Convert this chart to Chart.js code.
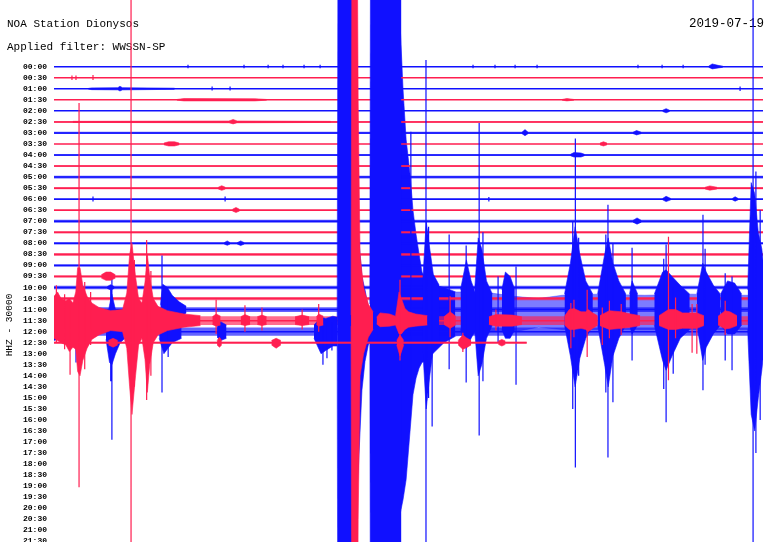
<!DOCTYPE html>
<html>
<head>
<meta charset="utf-8">
<title>NOA Station Dionysos</title>
<script src="https://cdn.jsdelivr.net/npm/chart.js@4.4.1/dist/chart.umd.min.js"></script>
<style>
  html, body { margin: 0; padding: 0; background: #fff; }
  #wrap { width: 770px; height: 542px; }
</style>
</head>
<body>
<div id="wrap"><canvas id="heli" width="770" height="542"></canvas></div>
<script>
const stationName = 'NOA Station Dionysos';
const filterName = 'Applied filter: WWSSN-SP';
const dayLabel = '2019-07-19';
const channelLabel = 'HHZ - 30000';

// one line every 30 minutes, x = minutes into the half hour
const traceLabels = ['00:00','00:30','01:00','01:30','02:00','02:30','03:00','03:30','04:00','04:30',
  '05:00','05:30','06:00','06:30','07:00','07:30','08:00','08:30','09:00','09:30',
  '10:00','10:30','11:00','11:30','12:00','12:30','13:00','13:30','14:00','14:30',
  '15:00','15:30','16:00','16:30','17:00','17:30','18:00','18:30','19:00','19:30',
  '20:00','20:30','21:00','21:30'];
const lastTrace = 25;
const lastMinute = 20.0;

// background noise per trace (half amplitude, in trace spacings)
const noiseLevel = [0.04,0.04,0.06,0.05,0.05,0.08,0.1,0.07,0.08,0.08,0.13,0.1,0.08,0.08,0.13,0.1,
  0.1,0.12,0.1,0.1,0.15,0.15,0.22,0.4,0.38,0.1];

// envelopes: [trace, [[minute, up, down], ...]]
const blueCoda = [
  [24, [[12.80,16.4,15.3],[12.88,8.9,12.3],[13.03,5.0,5.3],[13.16,3.8,2.7],[13.30,2.2,1.2],[13.40,2.0,0.8]]],
  [22, [[14.60,28,19],[14.77,19.9,17.2],[14.90,15.4,15.4],[15.07,12.2,10.9],[15.19,9.0,7.7],[15.32,6.8,6.2],
        [15.45,5.0,5.3],[15.57,3.4,4.8],[15.74,2.7,4.6],[16.12,2.2,3.8],[16.5,2.0,3.0],[17.0,1.6,2.4]]]
];
const blueTail = [
  [22, [[17.0,1.6,2.4],[17.5,1.6,2.3],[18.5,1.5,2.0],[19.5,1.2,2.0],[20.5,1.0,1.6],[21.5,1.3,1.8],
        [23.0,1.4,1.8],[25.0,1.3,1.8],[27.0,1.4,1.8],[29.0,1.3,1.8],[30,1.3,1.8]]]
];
const blueClipped = [
  [24, [[11.98,0.4,0.4],[12.02,40,40],[12.82,40,40]]],
  [22, [[13.36,0.5,0.5],[13.40,40,40],[14.70,40,40]]]
];
const blueBursts = [
  [24, [[0,0.9,0.8],[0.3,0.8,0.6],[0.8,0.9,0.9],[0.95,1.2,1.6],[1.1,1.0,1.2],[1.3,0.6,0.6]]],
  [24, [[2.2,0.7,0.7],[2.35,2.4,2.8],[2.45,3.4,3.0],[2.6,2.0,2.0],[2.8,1.0,1.0],[3.0,0.6,0.6]]],
  [24, [[4.45,0.6,0.6],[4.65,1.3,2.0],[5.0,0.9,1.0],[5.4,0.6,0.6]]],
  [24, [[6.9,0.5,0.5],[7.05,0.9,0.8],[7.3,0.6,0.6]]],
  [24, [[11.0,0.6,0.6],[11.3,1.3,2.0],[11.5,1.2,1.7],[11.8,1.4,1.3],[12.0,1.3,1.3]]],
  [22, [[4.5,0.4,0.4],[4.6,2.3,1.6],[4.8,2.0,1.4],[5.0,1.3,1.0],[5.3,0.7,0.7],[5.6,0.3,0.3]]],
  [22, [[15.6,2.5,3.5],[15.75,8.0,9.0],[15.9,5.5,6.0],[16.05,3.2,3.5],[16.3,2.2,2.8]]],
  [22, [[17.2,1.8,1.8],[17.45,4.5,3.5],[17.65,2.6,2.6],[17.85,1.4,1.8]]],
  [22, [[17.8,1.8,1.8],[17.95,6.5,6.0],[18.1,5.5,5.0],[18.3,2.6,2.6],[18.55,1.4,1.4]]],
  [22, [[18.95,1.8,1.8],[19.1,3.4,2.6],[19.3,3.0,2.6],[19.5,1.8,1.8]]],
  [22, [[21.6,1.4,1.4],[21.85,4.2,4.2],[22.05,7.5,7.0],[22.25,5.0,4.4],[22.5,2.6,2.6],[22.8,1.4,1.4]]],
  [22, [[23.0,1.4,1.4],[23.3,5.0,5.0],[23.45,6.5,7.0],[23.65,4.2,4.2],[23.9,2.6,2.6],[24.2,1.4,1.4]]],
  [22, [[24.35,1.4,1.4],[24.46,2.6,2.2],[24.7,1.4,1.4]]],
  [22, [[25.4,1.4,1.4],[25.75,3.4,4.6],[25.9,3.6,5.5],[26.15,3.0,4.2],[26.5,2.2,2.6],[26.9,1.4,1.8]]],
  [22, [[27.2,1.4,1.4],[27.45,4.2,4.6],[27.6,3.4,3.4],[27.9,2.2,2.2],[28.2,1.4,1.4]]],
  [22, [[28.2,1.4,1.4],[28.5,2.6,2.2],[28.8,2.4,2.2],[29.1,1.4,1.4]]],
  [22, [[29.35,1.8,1.8],[29.5,11.5,9.5],[29.65,10.5,11.0],[29.8,7.0,8.0],[29.95,5.5,5.5],[30,4.5,4.5]]],
  [0, [[27.7,0.05,0.05],[27.85,0.25,0.2],[28.1,0.12,0.12],[28.3,0.05,0.05]]],
  [2, [[1.45,0.03,0.03],[1.6,0.08,0.08],[2.7,0.1,0.1],[2.79,0.22,0.2],[2.9,0.1,0.1],[5.1,0.05,0.05]]],
  [4, [[25.75,0.05,0.05],[25.9,0.2,0.18],[26.05,0.05,0.05]]],
  [6, [[19.8,0.06,0.06],[19.93,0.3,0.25],[20.06,0.06,0.06]]],
  [6, [[24.5,0.06,0.06],[24.65,0.22,0.18],[24.85,0.06,0.06]]],
  [8, [[21.85,0.06,0.06],[22.0,0.22,0.18],[22.3,0.18,0.18],[22.45,0.06,0.06]]],
  [12, [[25.75,0.06,0.06],[25.9,0.26,0.22],[26.1,0.06,0.06]]],
  [12, [[28.7,0.06,0.06],[28.82,0.22,0.18],[28.95,0.06,0.06]]],
  [14, [[24.5,0.08,0.08],[24.67,0.3,0.26],[24.85,0.08,0.08]]],
  [16, [[7.2,0.06,0.06],[7.33,0.22,0.18],[7.45,0.06,0.06]]],
  [16, [[7.75,0.06,0.06],[7.9,0.22,0.2],[8.05,0.06,0.06]]],
  [20, [[2.25,0.08,0.08],[2.4,0.26,0.22],[2.55,0.08,0.08]]]
];
const redClipped = [
  [23, [[12.57,0.5,0.5],[12.61,40,40],[12.82,40,40],[12.87,20,18],[12.95,6,5],[13.1,3,3],[13.3,1.5,1.5],[13.5,0.8,0.8]]]
];
const redBursts = [
  [23, [[0,2.2,1.6],[0.15,2.6,1.8],[0.3,2.0,2.0],[0.5,1.8,2.2],[0.65,2.0,2.8],[0.8,1.6,2.4],[0.92,2.6,2.6],
        [1.0,4.8,4.6],[1.1,4.8,5.0],[1.22,3.2,3.6],[1.4,2.2,2.5],[1.6,1.6,1.7],[1.9,1.2,1.3],[2.4,0.9,0.9],
        [2.9,1.0,1.0],[3.08,2.5,2.5],[3.2,6,6],[3.3,7,8.5],[3.45,4,5],[3.58,2,2.2],[3.72,1.6,1.6],
        [3.85,3.5,3.5],[3.95,6,6.5],[4.05,4,4],[4.2,2,2],[4.4,1.3,1.3],[4.8,0.9,0.9],[5.5,0.6,0.6],[6.2,0.45,0.45]]],
  [23, [[6.7,0.35,0.35],[6.86,0.6,0.5],[7.05,0.4,0.4]]],
  [23, [[7.9,0.35,0.35],[8.08,0.55,0.45],[8.3,0.35,0.35]]],
  [23, [[8.6,0.35,0.35],[8.8,0.5,0.45],[9.0,0.35,0.35]]],
  [23, [[10.2,0.35,0.35],[10.5,0.5,0.45],[10.8,0.35,0.35]]],
  [23, [[11.1,0.35,0.35],[11.2,0.6,0.5],[11.4,0.4,0.4]]],
  [23, [[13.65,0.3,0.3],[13.8,0.7,0.55],[14.2,0.6,0.5],[14.45,0.4,0.4],[14.6,2.6,1.2],[14.7,2.0,1.2],
        [14.85,1.1,0.8],[15.0,0.8,0.6],[15.3,0.6,0.5],[15.8,0.45,0.4]]],
  [23, [[16.5,0.35,0.35],[16.76,0.8,0.7],[17.0,0.4,0.4]]],
  [23, [[18.4,0.35,0.35],[18.7,0.55,0.5],[19.4,0.5,0.5],[19.8,0.35,0.35]]],
  [23, [[21.6,0.4,0.4],[21.8,1.0,0.8],[22.0,1.1,0.8],[22.3,0.8,0.7],[22.5,0.8,0.8],[22.6,1.0,1.0],[22.8,0.7,0.7],[23.0,0.45,0.45]]],
  [23, [[23.1,0.45,0.45],[23.5,0.9,0.8],[24.0,0.8,0.7],[24.4,0.6,0.6],[24.8,0.45,0.45]]],
  [23, [[25.6,0.45,0.45],[26.0,1.0,0.8],[26.3,1.0,0.8],[26.6,0.7,0.7],[27.0,0.7,0.7],[27.2,0.7,0.7],[27.5,0.45,0.45]]],
  [23, [[28.1,0.4,0.4],[28.4,0.9,0.75],[28.6,0.8,0.7],[28.9,0.45,0.45]]],
  [25, [[2.3,0.2,0.2],[2.5,0.4,0.4],[2.7,0.2,0.2]]],
  [25, [[6.9,0.2,0.2],[7.0,0.5,0.4],[7.1,0.2,0.2]]],
  [25, [[9.2,0.2,0.2],[9.4,0.4,0.5],[9.6,0.2,0.2]]],
  [25, [[14.5,0.2,0.2],[14.64,0.7,1.2],[14.8,0.2,0.2]]],
  [25, [[17.1,0.2,0.2],[17.3,0.7,0.6],[17.45,0.45,0.45],[17.65,0.2,0.2]]],
  [25, [[18.8,0.15,0.15],[18.95,0.3,0.3],[19.1,0.15,0.15]]],
  [19, [[2.0,0.15,0.15],[2.2,0.4,0.35],[2.4,0.4,0.35],[2.6,0.15,0.15]]],
  [7, [[4.65,0.08,0.08],[4.85,0.2,0.18],[5.1,0.2,0.18],[5.3,0.08,0.08]]],
  [7, [[23.1,0.08,0.08],[23.25,0.2,0.18],[23.4,0.08,0.08]]],
  [3, [[5.2,0.03,0.03],[5.5,0.12,0.1],[8.5,0.1,0.1],[9.0,0.03,0.03]]],
  [3, [[21.5,0.03,0.03],[21.7,0.12,0.1],[22.0,0.03,0.03]]],
  [5, [[0.8,0.05,0.05],[7.4,0.08,0.08],[7.58,0.22,0.18],[7.75,0.08,0.08],[11.7,0.05,0.05]]],
  [11, [[6.95,0.08,0.08],[7.1,0.22,0.2],[7.25,0.08,0.08]]],
  [11, [[27.55,0.08,0.08],[27.75,0.2,0.18],[28.05,0.08,0.08]]],
  [13, [[7.55,0.08,0.08],[7.7,0.25,0.2],[7.85,0.08,0.08]]]
];

// single spikes: [trace, minute, up, down]
const blueSpikes = [
  [22,4.57,4.9,7.5],[22,4.83,1.0,4.3],[24,2.45,5.3,9.8],[24,0.93,0.8,2.8],[24,11.38,1.0,3.0],
  [24,11.55,0.8,2.4],[24,11.76,0.8,1.7],[22,15.1,16.1,8],[22,15.74,22.6,40],[22,16.0,3,10.6],
  [22,16.72,6.8,5.4],[22,17.44,5.8,6.6],[22,17.99,16.9,11.4],[22,18.79,3.0,3.0],[22,19.55,3.9,6.8],
  [22,22.06,15.5,14.3],[22,23.44,9.5,13.4],[22,23.65,6.0,8.4],[22,24.46,5.6,4.6],[22,25.9,5.9,10.2],
  [22,26.2,2.0,5.8],[22,27.46,8.6,7.3],[22,28.4,3.3,4.6],[22,28.69,3.0,5.5],[22,29.58,40,40],
  [22,15.85,7.5,8.0],[22,18.15,7.0,6.5],[22,21.95,8.0,9.0],[22,22.2,6.5,6.0],[22,23.35,6.8,7.5],
  [22,25.8,4.6,7.2],[22,27.55,5.5,5.0],[22,29.7,12.5,13.0],[22,29.88,9.0,10.0],[24,2.4,3.8,4.5],
  [0,5.67,0.18,0.15],[0,8.04,0.18,0.15],[0,9.06,0.18,0.15],[0,9.69,0.18,0.15],[0,10.58,0.18,0.15],
  [0,11.26,0.18,0.15],[0,17.73,0.18,0.15],[0,18.66,0.18,0.15],[0,19.51,0.18,0.15],[0,20.44,0.18,0.15],
  [0,24.71,0.18,0.15],[0,25.73,0.18,0.15],[0,26.62,0.18,0.15],
  [2,6.69,0.2,0.15],[2,7.45,0.2,0.15],[2,29.03,0.2,0.2],[12,1.65,0.25,0.2],[12,7.24,0.25,0.2],[12,18.4,0.2,0.2]
];
const redSpikes = [
  [23,1.06,19.7,15.1],[23,3.26,40,40],[23,0.68,1.5,4.9],[23,3.92,7.3,7.2],[23,21.87,1.6,2.5],
  [23,22.56,2.8,3.3],[23,23.2,1.2,2.2],[23,26.0,7.6,5.4],[23,27.0,1.5,2.9],[23,27.2,1.5,3.0],
  [23,14.64,3.7,3.6],[23,0.1,3.2,2.0],[23,0.45,2.4,2.6],[23,1.3,3.5,4.4],[23,1.55,2.6,2.2],
  [23,3.4,5.5,6],[23,4.1,4.5,5.0],[23,6.86,1.9,1.2],[23,8.08,1.4,1.0],[23,8.8,1.2,0.9],
  [23,10.5,1.0,0.8],[23,11.2,1.5,1.0],[23,16.76,2.2,1.5],[23,18.7,1.0,0.9],[23,22.0,1.9,1.5],
  [23,23.5,1.8,1.6],[23,24.0,1.5,1.3],[23,26.3,2.1,1.6],[23,28.4,1.8,1.3],
  [25,17.3,0.9,0.85],[25,14.64,0.9,1.5],
  [1,0.76,0.2,0.2],[1,0.93,0.2,0.2],[1,1.65,0.25,0.2]
];

const blue = 'rgb(16,16,255)';
const red = 'rgb(255,30,80)';
const yMin = -6.04, yMax = 43.05;
const unitPx = 542 / (yMax - yMin);

function tint(c, a) {
  return c.replace('rgb(', 'rgba(').replace(')', ',' + a + ')');
}
function colorOf(k) {
  return k % 2 ? red : blue;
}

let datasets = [];

function addLine(points, color, width, order) {
  datasets.push({ data: points, borderColor: color, borderWidth: width, pointRadius: 0,
    fill: false, spanGaps: false, order: order });
}

function addEnvelope(k, pts, color, order) {
  datasets.push({ data: pts.map(p => ({ x: p[0], y: k - p[1] })), borderColor: color,
    backgroundColor: color, borderWidth: 0.6, pointRadius: 0, fill: '+1', order: order });
  datasets.push({ data: pts.map(p => ({ x: p[0], y: k + p[2] })), borderColor: color,
    borderWidth: 0.6, pointRadius: 0, fill: false, order: order });
}

function addSpikes(list, color, order) {
  let pts = [];
  list.forEach(s => {
    pts.push({ x: s[1], y: s[0] - s[2] }, { x: s[1], y: s[0] + s[3] }, { x: s[1], y: null });
  });
  addLine(pts, color, 1.2, order);
}

// traces, later ones on top
for (let k = 0; k <= lastTrace; k++) {
  const end = k === lastTrace ? lastMinute : 30;
  const col = colorOf(k);
  const pts = [{ x: 0, y: k }, { x: end, y: k }];
  const band = 2 * noiseLevel[k] * unitPx;
  const ord = k === lastTrace ? 5 : 80 - k;
  if (band > 1.6) addLine(pts, tint(col, 0.65), band, ord + 0.5);
  addLine(pts, col, 1.5, ord);
}

blueCoda.forEach(b => addEnvelope(b[0], b[1], blue, 90));
blueTail.forEach(b => addEnvelope(b[0], b[1], tint(blue, 0.55), 91));
blueBursts.forEach(b => addEnvelope(b[0], b[1], blue, 40));
addSpikes(blueSpikes, blue, 38);
blueClipped.forEach(b => addEnvelope(b[0], b[1], blue, 30));
redBursts.forEach(b => addEnvelope(b[0], b[1], red, b[0] === lastTrace ? 4 : 20));
addSpikes(redSpikes, red, 18);
redClipped.forEach(b => addEnvelope(b[0], b[1], red, 15));

const heliText = {
  id: 'heliText',
  beforeDatasetsDraw(chart) {
    const c = chart.ctx;
    c.save();
    c.fillStyle = '#000';
    c.textBaseline = 'alphabetic';
    c.font = '11px "Liberation Mono"';
    c.textAlign = 'left';
    c.fillText(stationName, 7, 27);
    c.fillText(filterName, 7, 50);
    c.font = '12.5px "Liberation Mono"';
    c.textAlign = 'right';
    c.fillText(dayLabel, 764, 27);
    c.translate(12, 325);
    c.rotate(-Math.PI / 2);
    c.textAlign = 'center';
    c.font = '9.5px "Liberation Mono"';
    c.fillText(channelLabel, 0, 0);
    c.restore();
  }
};

new Chart(document.getElementById('heli'), {
  type: 'line',
  data: { datasets: datasets },
  plugins: [heliText],
  options: {
    responsive: false,
    animation: false,
    layout: { padding: { left: 0, right: 7, top: 0, bottom: 0 } },
    plugins: { legend: { display: false }, tooltip: { enabled: false } },
    elements: { line: { tension: 0 } },
    scales: {
      x: { type: 'linear', min: 0, max: 30, display: false },
      y: {
        type: 'linear', reverse: true, min: yMin, max: yMax,
        afterBuildTicks: s => { s.ticks = traceLabels.map((_, i) => ({ value: i })); },
        afterFit: s => { s.width = 54; s.paddingTop = 0; s.paddingBottom = 0; },
        grid: { display: false, drawTicks: false },
        border: { display: false },
        ticks: {
          autoSkip: false, padding: 7, color: '#000',
          font: { family: '"Liberation Mono"', size: 8, weight: 'bold' },
          callback: v => traceLabels[v]
        }
      }
    }
  }
});
</script>
</body>
</html>
